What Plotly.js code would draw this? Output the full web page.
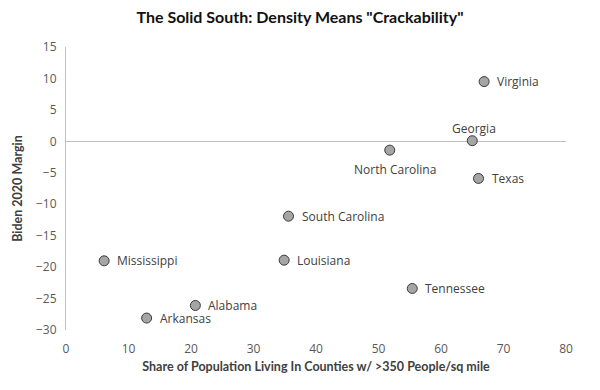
<!DOCTYPE html>
<html>
<head>
<meta charset="utf-8">
<script src="https://cdn.plot.ly/plotly-3.0.1.min.js"></script>
<style>html,body{margin:0;padding:0;background:#fff;}#chart{width:600px;height:390px;}</style>
</head>
<body>
<div id="chart"></div>
<script>
const states = ["Virginia","Georgia","North Carolina","Texas","South Carolina","Louisiana","Mississippi","Tennessee","Alabama","Arkansas"];
const densityShare = [66.9, 65.0, 51.8, 66.0, 35.6, 34.9, 6.1, 55.4, 20.7, 12.9];
const bidenMargin = [9.5, 0.1, -1.4, -5.9, -11.9, -18.9, -19.0, -23.4, -26.1, -28.1];
const labelSides = ["right","above","below","right","right","right","right","right","right","right"];

const trace = {
  x: densityShare,
  y: bidenMargin,
  mode: "markers",
  type: "scatter",
  marker: {size: 10, color: "#a5a5a5", line: {color: "#3a3a3a", width: 1}},
  hoverinfo: "none",
  cliponaxis: false
};

const sideStyle = {
  right: {xanchor: "left", yanchor: "middle", xshift: 11, yshift: 0},
  above: {xanchor: "center", yanchor: "middle", xshift: 2, yshift: 12},
  below: {xanchor: "center", yanchor: "middle", xshift: 5, yshift: -19}
};

const annotations = states.map((s, i) => Object.assign({
  x: densityShare[i], y: bidenMargin[i], text: s, showarrow: false,
  font: {family: "Open Sans, sans-serif", size: 12, color: "#404040"}
}, sideStyle[labelSides[i]]));

const layout = {
  width: 600, height: 390,
  margin: {l: 66, r: 34, t: 47, b: 60},
  paper_bgcolor: "#fff", plot_bgcolor: "#fff",
  showlegend: false,
  annotations: annotations,
  title: {text: "<b>The Solid South: Density Means \"Crackability\"</b>", x: 0.5, xanchor: "center", y: 0.955, yanchor: "middle",
          font: {family: "Lato, sans-serif", size: 16, color: "#111"}},
  xaxis: {
    range: [0, 80], dtick: 10, tick0: 0,
    showgrid: false, zeroline: false, showline: false, ticks: "",
    ticklabelstandoff: 10,
    tickfont: {family: "Open Sans, sans-serif", size: 12, color: "#595959"},
    title: {text: "<b>Share of Population Living In Counties w/ >350 People/sq mile</b>", standoff: 6,
            font: {family: "Lato, sans-serif", size: 12.5, color: "#404040"}}
  },
  yaxis: {
    range: [-30, 15], dtick: 5, tick0: 0,
    showgrid: false, zeroline: true, zerolinecolor: "#bfbfbf", zerolinewidth: 1,
    showline: true, linecolor: "#bfbfbf", linewidth: 1, ticks: "",
    ticklabelstandoff: 6,
    tickfont: {family: "Open Sans, sans-serif", size: 12, color: "#595959"},
    title: {text: "<b>Biden 2020 Margin</b>", standoff: 10,
            font: {family: "Lato, sans-serif", size: 12.5, color: "#404040"}}
  }
};

Plotly.newPlot("chart", [trace], layout, {displayModeBar: false, staticPlot: true});
</script>
</body>
</html>
